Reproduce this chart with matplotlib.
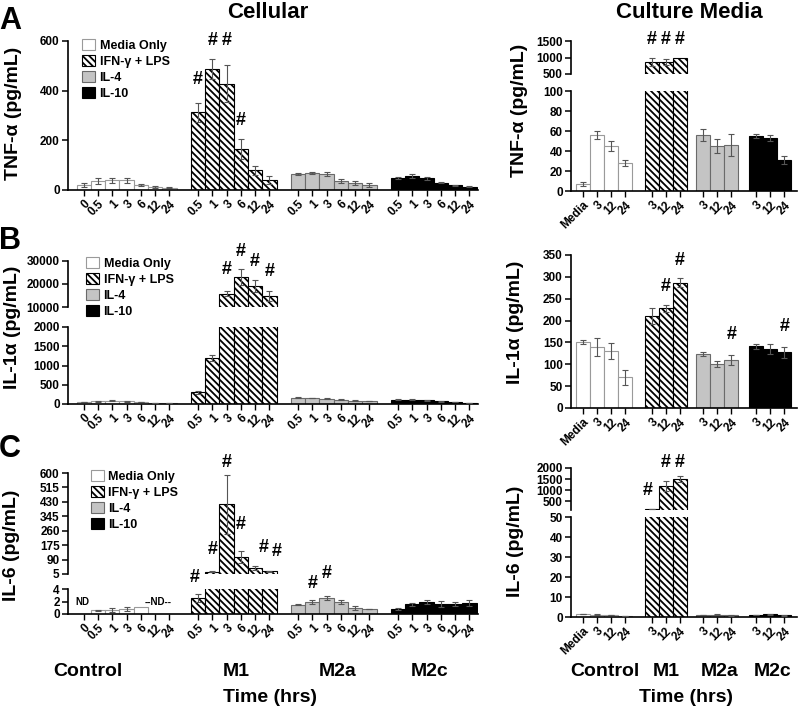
import numpy as np
import matplotlib
matplotlib.use('Agg')
import matplotlib.pyplot as plt
from matplotlib.patches import Patch

plt.rcParams['font.family'] = ['Liberation Sans', 'DejaVu Sans']
plt.rcParams['font.weight'] = 'bold'
plt.rcParams['hatch.linewidth'] = 1.3
NARROW = ['Liberation Sans Narrow', 'Liberation Sans', 'DejaVu Sans']

W, H = 800, 711
nan = np.nan

# ---- labels ----
groups = ['Control', 'M1', 'M2a', 'M2c']
series_names = ['Media Only', 'IFN-γ + LPS', 'IL-4', 'IL-10']
cell_ticks_ctrl = ['0', '0.5', '1', '3', '6', '12', '24']
cell_ticks = ['0.5', '1', '3', '6', '12', '24']
media_ticks_ctrl = ['Media', '3', '12', '24']
media_ticks = ['3', '12', '24']

# ---- TNF-a ----
tnf_cell_ctrl = [20, 35, 40, 40, 20, 12, 10]
tnf_cell_ctrl_err = [8, 12, 10, 10, 5, 5, 3]
tnf_cell_m1 = [313, 487, 428, 165, 80, 40]
tnf_cell_m1_err = [39, 40, 75, 40, 18, 16]
tnf_cell_m2a = [65, 68, 63, 37, 28, 20]
tnf_cell_m2a_err = [3, 4, 8, 7, 8, 7]
tnf_cell_m2c = [47, 55, 48, 30, 20, 14]
tnf_cell_m2c_err = [4, 8, 6, 3, 2, 2]

tnf_media_ctrl = [7, 56, 45, 28]
tnf_media_ctrl_err = [2, 4, 5, 3]
tnf_media_m1 = [860, 865, 1000]
tnf_media_m1_err = [115, 90, 0]
tnf_media_m2a = [56, 45, 46]
tnf_media_m2a_err = [6, 7, 11]
tnf_media_m2c = [55, 53, 31]
tnf_media_m2c_err = [2, 3, 4]

# ---- IL-1a ----
il1_cell_ctrl = [50, 70, 85, 75, 50, 30, 20]
il1_cell_ctrl_err = [10, 12, 12, 12, 10, 8, 6]
il1_cell_m1 = [300, 1200, 15800, 23100, 19000, 14800]
il1_cell_m1_err = [30, 80, 1000, 3600, 2600, 2000]
il1_cell_m2a = [160, 155, 140, 110, 85, 75]
il1_cell_m2a_err = [10, 10, 15, 15, 15, 10]
il1_cell_m2c = [110, 110, 100, 70, 50, 30]
il1_cell_m2c_err = [10, 10, 12, 10, 8, 6]

il1_media_ctrl = [151, 140, 130, 70]
il1_media_ctrl_err = [5, 20, 18, 18]
il1_media_m1 = [211, 228, 287]
il1_media_m1_err = [18, 8, 10]
il1_media_m2a = [123, 100, 110]
il1_media_m2a_err = [4, 7, 12]
il1_media_m2c = [141, 135, 127]
il1_media_m2c_err = [5, 12, 13]

# ---- IL-6 ----
il6_cell_ctrl = [nan, 0.6, 0.65, 0.8, 1.1, nan, nan]
il6_cell_ctrl_err = [0, 0.1, 0.3, 0.3, 0, 0, 0]
il6_cell_m1 = [2.6, 18, 415, 105, 40, 20]
il6_cell_m1_err = [0.6, 3, 175, 38, 10, 4]
il6_cell_m2a = [1.5, 1.9, 2.6, 1.9, 1.0, 0.78]
il6_cell_m2a_err = [0.05, 0.3, 0.3, 0.35, 0.3, 0.05]
il6_cell_m2c = [0.8, 1.55, 1.95, 1.6, 1.6, 1.8]
il6_cell_m2c_err = [0.1, 0.2, 0.3, 0.5, 0.3, 0.5]

il6_media_ctrl = [1.5, 1.2, 1.0, 0.5]
il6_media_ctrl_err = [0.2, 0.3, 0.1, 0.1]
il6_media_m1 = [130, 1180, 1490]
il6_media_m1_err = [10, 240, 135]
il6_media_m2a = [1.0, 1.2, 0.8]
il6_media_m2a_err = [0.1, 0.2, 0.2]
il6_media_m2c = [0.9, 1.3, 0.9]
il6_media_m2c_err = [0.1, 0.2, 0.2]

# ---- layout ----
cell_pos = [np.arange(0, 7), np.arange(8, 14), np.arange(15, 21), np.arange(22, 28)]
media_pos = [np.arange(0, 4), 4.9 + np.arange(3), 8.6 + np.arange(3), 12.4 + np.arange(3)]
cell_xlim = (-1.1, 27.6)
media_xlim = (-0.86, 15.3)

styles = [
    dict(color='white', edgecolor='#9a9a9a'),
    dict(color='white', edgecolor='black', hatch='\\\\\\\\\\'),
    dict(color='#c4c4c4', edgecolor='#6a6a6a'),
    dict(color='black', edgecolor='black'),
]


def rect(x0, x1, ytop, ybot):
    return [x0 / W, 1 - ybot / H, (x1 - x0) / W, (ybot - ytop) / H]


def draw_bars(ax, positions, values, errors, floor=0.0):
    for i in range(4):
        pos = np.asarray(positions[i], dtype=float)
        v = np.asarray(values[i], dtype=float)
        e = np.asarray(errors[i], dtype=float)
        ok = ~np.isnan(v)
        ok[ok] = v[ok] > floor
        if ok.any():
            ax.bar(pos[ok], v[ok], width=1.0, linewidth=0.8, zorder=2, **styles[i])
        ok = ok & (e > 0)
        if ok.any():
            ax.errorbar(pos[ok], v[ok], yerr=e[ok], fmt='none', ecolor='#555555',
                        elinewidth=0.8, capsize=2.5, capthick=0.8, zorder=3)


def style_axis(ax, ylim, yticks, xlim, show_x, xpos=None, xlabels=None):
    ax.set_ylim(*ylim)
    ax.set_xlim(*xlim)
    ax.set_yticks(yticks)
    ax.set_yticklabels([str(t) for t in yticks])
    ax.patch.set_visible(False)
    for s in ['top', 'right']:
        ax.spines[s].set_visible(False)
    ax.spines['left'].set_linewidth(1.2)
    ax.spines['bottom'].set_linewidth(1.2)
    ax.tick_params(axis='y', direction='out', length=4, width=1.1, pad=2, labelsize=8.5)
    if show_x:
        ax.set_xticks(xpos)
        ax.set_xticklabels(xlabels, rotation=45, ha='right', va='top',
                           rotation_mode='anchor', fontsize=8.5)
        ax.tick_params(axis='x', direction='out', length=4, width=1.0, pad=2)
    else:
        ax.spines['bottom'].set_visible(False)
        ax.tick_params(axis='x', bottom=False, labelbottom=False)


def panel(fig, cols, lo, hi, positions, values, errors, xlim, xlabels):
    xpos = np.concatenate(positions)
    ax_lo = fig.add_axes(rect(cols[0], cols[1], lo[0], lo[1]))
    draw_bars(ax_lo, positions, values, errors)
    style_axis(ax_lo, lo[2], lo[3], xlim, True, xpos, xlabels)
    ax_hi = None
    if hi is not None:
        ax_hi = fig.add_axes(rect(cols[0], cols[1], hi[0], hi[1]))
        draw_bars(ax_hi, positions, values, errors, floor=hi[2][0])
        style_axis(ax_hi, hi[2], hi[3], xlim, False)
    return ax_lo, ax_hi


def hashes(ax, pts):
    for x, y in pts:
        ax.text(x, y, '#', ha='center', va='center', fontsize=13, fontweight='bold',
                zorder=10)


def legend(fig, x, y):
    handles = [Patch(facecolor=s['color'], edgecolor=s['edgecolor'], hatch=s.get('hatch'),
                     linewidth=0.8) for s in styles]
    fig.legend(handles, series_names, loc='upper left', bbox_to_anchor=(x / W, 1 - y / H),
               frameon=False, handlelength=1.0, handleheight=1.0,
               handletextpad=0.4, labelspacing=0.25, borderpad=0, borderaxespad=0,
               prop={'weight': 'bold', 'size': 9})


cell_labels = cell_ticks_ctrl + cell_ticks * 3
media_labels = media_ticks_ctrl + media_ticks * 3
LEFT = (68, 478)
RIGHT = (571, 797)

fig = plt.figure(figsize=(8, 7.11), dpi=100)

# A
a_l, _ = panel(fig, LEFT, (41, 190, (0, 600), [0, 200, 400, 600]), None, cell_pos,
               [tnf_cell_ctrl, tnf_cell_m1, tnf_cell_m2a, tnf_cell_m2c],
               [tnf_cell_ctrl_err, tnf_cell_m1_err, tnf_cell_m2a_err, tnf_cell_m2c_err],
               cell_xlim, cell_labels)
hashes(a_l, [(8, 445), (9, 604), (10, 604), (11, 280)])
a_r, a_rh = panel(fig, RIGHT, (91, 191, (0, 100), [0, 20, 40, 60, 80, 100]),
                  (41, 74, (500, 1500), [500, 1000, 1500]), media_pos,
                  [tnf_media_ctrl, tnf_media_m1, tnf_media_m2a, tnf_media_m2c],
                  [tnf_media_ctrl_err, tnf_media_m1_err, tnf_media_m2a_err, tnf_media_m2c_err],
                  media_xlim, media_labels)
hashes(a_rh, [(4.9, 1560), (5.9, 1560), (6.9, 1560)])
legend(fig, 82, 39)

# B
b_l, b_lh = panel(fig, LEFT, (327, 404, (0, 2000), [0, 500, 1000, 1500, 2000]),
                  (261, 307, (10000, 30000), [10000, 20000, 30000]), cell_pos,
                  [il1_cell_ctrl, il1_cell_m1, il1_cell_m2a, il1_cell_m2c],
                  [il1_cell_ctrl_err, il1_cell_m1_err, il1_cell_m2a_err, il1_cell_m2c_err],
                  cell_xlim, cell_labels)
hashes(b_lh, [(10, 26100), (11, 34000), (12, 29700), (13, 25300)])
b_r, _ = panel(fig, RIGHT, (255, 408, (0, 350), [0, 50, 100, 150, 200, 250, 300, 350]), None,
               media_pos,
               [il1_media_ctrl, il1_media_m1, il1_media_m2a, il1_media_m2c],
               [il1_media_ctrl_err, il1_media_m1_err, il1_media_m2a_err, il1_media_m2c_err],
               media_xlim, media_labels)
hashes(b_r, [(5.9, 278), (6.9, 337), (10.6, 167), (14.4, 186)])
legend(fig, 86, 257)

# C
c_l, c_lh = panel(fig, LEFT, (589, 614, (0, 4), [0, 2, 4]),
                  (473, 574, (5, 600), [5, 90, 175, 260, 345, 430, 515, 600]), cell_pos,
                  [il6_cell_ctrl, il6_cell_m1, il6_cell_m2a, il6_cell_m2c],
                  [il6_cell_ctrl_err, il6_cell_m1_err, il6_cell_m2a_err, il6_cell_m2c_err],
                  cell_xlim, cell_labels)
hashes(c_l, [(7.8, 5.9), (16, 4.96), (17, 6.4)])
hashes(c_lh, [(9, 152), (10, 659), (11, 294), (12.6, 164), (13.5, 140)])
c_l.text(-0.1, 1.9, 'ND', ha='center', va='center', fontsize=7, fontweight='bold')
c_l.text(5.2, 1.9, '--ND--', ha='center', va='center', fontsize=7, fontweight='bold')
c_r, c_rh = panel(fig, RIGHT, (517, 617, (0, 50), [0, 10, 20, 30, 40, 50]),
                  (468, 510, (91, 2000), [500, 1000, 1500, 2000]), media_pos,
                  [il6_media_ctrl, il6_media_m1, il6_media_m2a, il6_media_m2c],
                  [il6_media_ctrl_err, il6_media_m1_err, il6_media_m2a_err, il6_media_m2c_err],
                  media_xlim, media_labels)
hashes(c_rh, [(4.6, 1000), (5.9, 2270), (6.9, 2270)])
legend(fig, 91, 470)

# y labels
ylabels = [('TNF-α (pg/mL)', 14, 113), ('TNF-α (pg/mL)', 520, 110),
           ('IL-1α (pg/mL)', 13, 327), ('IL-1α (pg/mL)', 516, 322),
           ('IL-6 (pg/mL)', 12, 545), ('IL-6 (pg/mL)', 515, 541)]
for txt, x, y in ylabels:
    fig.text(x / W, 1 - y / H, txt, rotation=90, ha='center', va='center',
             fontsize=14, fontweight='bold')

# panel letters and titles
for letter, y in [('A', 21), ('B', 241), ('C', 449)]:
    fig.text(10 / W, 1 - y / H, letter, ha='center', va='center', fontsize=22,
             fontweight='bold', family=NARROW)
fig.text(268 / W, 1 - 13 / H, 'Cellular', ha='center', va='center', fontsize=16,
         fontweight='bold', family=NARROW)
fig.text(689 / W, 1 - 13 / H, 'Culture Media', ha='center', va='center', fontsize=16,
         fontweight='bold', family=NARROW)

# group labels under C
for name, x in zip(groups, [88, 236, 338, 430]):
    fig.text(x / W, 1 - 672 / H, name, ha='center', va='center', fontsize=14,
             fontweight='bold', family=NARROW)
for name, x in zip(groups, [605, 666, 720, 773]):
    fig.text(x / W, 1 - 672 / H, name, ha='center', va='center', fontsize=14,
             fontweight='bold', family=NARROW)
fig.text(270 / W, 1 - 697 / H, 'Time (hrs)', ha='center', va='center', fontsize=14,
         fontweight='bold', family=NARROW)
fig.text(686 / W, 1 - 697 / H, 'Time (hrs)', ha='center', va='center', fontsize=14,
         fontweight='bold', family=NARROW)

fig.savefig('out.png', dpi=100)
